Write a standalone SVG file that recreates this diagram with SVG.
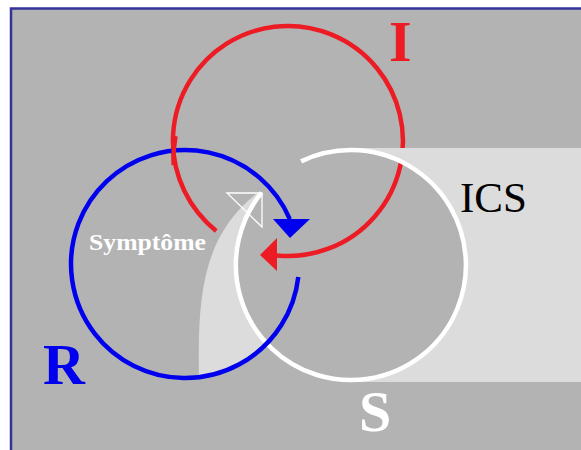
<svg xmlns="http://www.w3.org/2000/svg" width="581" height="450" viewBox="0 0 581 450">
<style>
.ring{fill:none;stroke-width:4.5;stroke-linecap:butt}
.lbl{font-family:"Liberation Serif","Times New Roman",serif;font-weight:bold}
</style>
<rect x="0" y="0" width="581" height="450" fill="#ffffff"/>
<rect x="11" y="8.5" width="600" height="460" fill="#b3b3b3" stroke="#33339a" stroke-width="2.5"/>
<g id="connectors">
<g id="ring-I">
<path class="ring" stroke="#ed1c24" d="M216.2,230.9 A115,115 0 1 1 277,255.5"/>
<polygon fill="#ed1c24" points="260,255 277,238 277,271"/>
</g>
<path id="ics-area" fill="#dcdcdc" d="M351,148 H581 V382 H351 V380 A115,115 0 0 0 351,150 Z"/>
<g id="symptome-arrow">
<path fill="#dcdcdc" d="M199,377 C197,290 205,235 256,194 L262,193 A115,115 0 0 0 265,342 A114,114 0 0 1 199,377 Z"/>
<polygon fill="none" stroke="#ffffff" stroke-width="1.3" points="227,193 262,193 262,227"/>
</g>
<g id="ring-S">
<path class="ring" stroke="#ffffff" d="M301.1,161.4 A115,115 0 1 1 261.6,192.6"/>
</g>
<g id="ring-R">
<path class="ring" stroke="#0000ee" d="M298.3,276.9 A114,114 0 1 1 289.8,219.1"/>
<polygon fill="#0000ee" points="273,219 310,219 290,238"/>
</g>
<path class="ring" stroke="#ed1c24" d="M173.7,165 A115,115 0 0 1 175.5,136"/>
</g>
<g id="label-I"><text class="lbl" x="389" y="61" font-size="58" fill="#ed1c24">I</text></g>
<g id="label-R"><text class="lbl" x="43" y="384" font-size="58" fill="#0000ee">R</text></g>
<g id="label-S"><text class="lbl" x="359" y="431" font-size="58" fill="#ffffff">S</text></g>
<g id="label-ICS"><text x="460" y="212" font-size="43" fill="#000000" font-family="'Liberation Serif','Times New Roman',serif">ICS</text></g>
<g id="label-symptome"><text class="lbl" x="89" y="250" font-size="24" fill="#ffffff" textLength="117" lengthAdjust="spacingAndGlyphs">Symptôme</text></g>
</svg>
